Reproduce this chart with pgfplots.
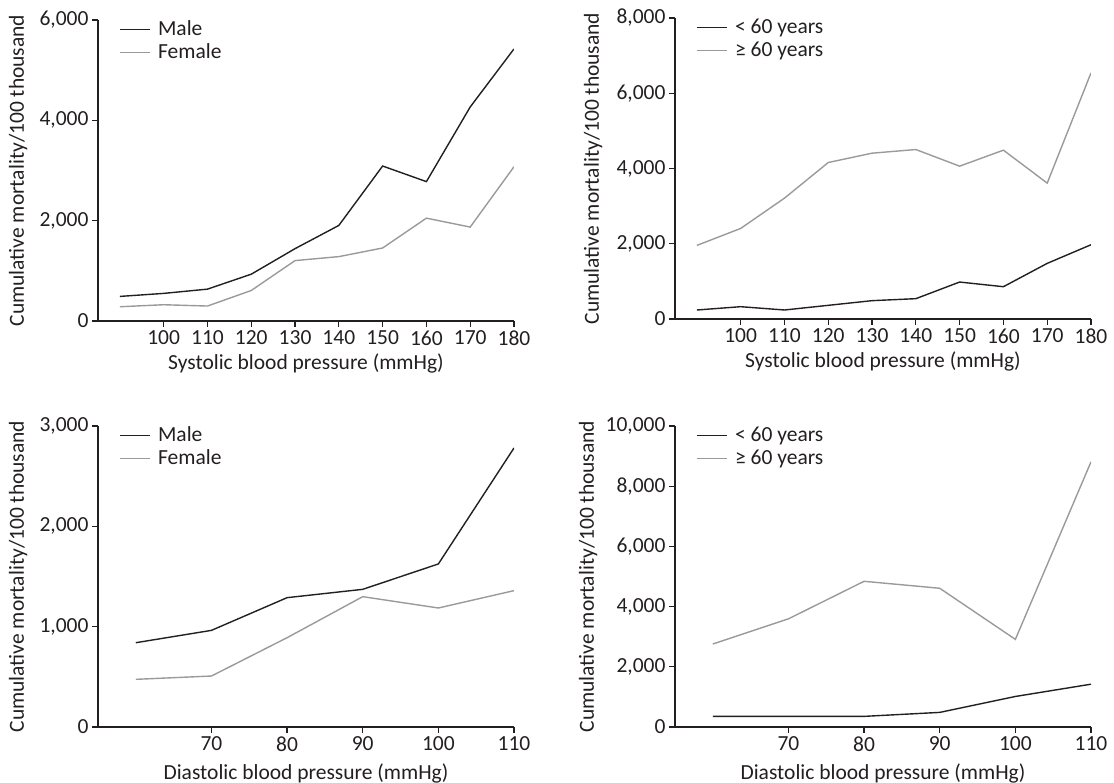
\documentclass[border=0pt]{standalone}
\usepackage{pgfplots}
\pgfplotsset{compat=1.18}
\usepackage{fontspec}
\setmainfont{Carlito}
\definecolor{dk}{HTML}{231F20}
\definecolor{gr}{HTML}{9A9A9A}
\pgfplotsset{
  base/.style={
    scale only axis,
    width=416pt, height=301pt,
    axis x line=bottom, axis y line=left,
    axis line style={-, line width=1.2pt, color=dk},
    tick style={line width=1.2pt, color=dk},
    major tick length=6pt, tick align=outside,
    font=\fontsize{21.5}{25}\selectfont,
    every tick label/.append style={text=dk},
    label style={text=dk},
    /pgf/number format/assume math mode=true,
    yticklabel style={/pgf/number format/fixed, /pgf/number format/1000 sep={,}},
    xticklabel style={/pgf/number format/1000 sep={}},
    scaled y ticks=false,
    ymin=0,
    minor tick num=0,
    ylabel={Cumulative mortality/100 thousand},
    legend cell align=left,
    legend image code/.code={\draw[##1] (0pt,0pt) -- (30pt,0pt); \path (33pt,0pt);},
    legend style={draw=none, fill=none, at={(0,1)}, anchor=north west,
      xshift=18pt, yshift=4pt, font=\fontsize{21.5}{25}\selectfont, text=dk,
      row sep=0pt, nodes={inner xsep=4.5pt, inner ysep=2pt, text height=15pt, text depth=4pt}},
  },
  blk/.style={color=dk, line width=1.4pt, mark=none},
  gry/.style={color=gr, line width=1.4pt, mark=none},
}
\begin{document}
\begin{tikzpicture}
\path[use as bounding box] (0pt,0pt) rectangle (1114pt,783pt);
% top left
\begin{axis}[base, at={(98pt,462pt)}, anchor=south west,
  xmin=85, xmax=180, xtick={100,110,...,180},
  ymax=6000, ytick={0,2000,4000,6000},
  xlabel={Systolic blood pressure (mmHg)},
  xlabel style={at={(axis description cs:0.5,0)}, anchor=center, yshift=-42pt},
  ylabel style={at={(axis description cs:-0.192,0.5)}, anchor=center}]
\addplot[blk] coordinates {(90,490) (100,550) (110,635) (120,933) (130,1442) (140,1905) (150,3089) (160,2778) (170,4266) (180,5423)};
\addlegendentry{Male}
\addplot[gry] coordinates {(90,284) (100,324) (110,298) (120,608) (130,1204) (140,1283) (150,1455) (160,2050) (170,1872) (180,3075)};
\addlegendentry{Female}
\end{axis}
% top right
\begin{axis}[base, at={(675pt,464pt)}, anchor=south west,
  xmin=85, xmax=180, xtick={100,110,...,180},
  ymax=8000, ytick={0,2000,4000,6000,8000},
  xlabel={Systolic blood pressure (mmHg)},
  xlabel style={at={(axis description cs:0.5,0)}, anchor=center, yshift=-42pt},
  ylabel style={at={(axis description cs:-0.197,0.5)}, anchor=center}]
\addplot[blk] coordinates {(90,239) (100,327) (110,239) (120,363) (130,487) (140,540) (150,982) (160,858) (170,1478) (180,1973)};
\addlegendentry{< 60 years}
\addplot[gry] coordinates {(90,1956) (100,2407) (110,3212) (120,4159) (130,4407) (140,4504) (150,4062) (160,4487) (170,3611) (180,6540)};
\addlegendentry{≥ 60 years}
\end{axis}
% bottom left
\begin{axis}[base, at={(98pt,56pt)}, anchor=south west,
  xmin=55, xmax=110, xtick={70,80,...,110},
  ymax=3000, ytick={0,1000,2000,3000},
  xlabel={Diastolic blood pressure (mmHg)},
  xlabel style={at={(axis description cs:0.5,0)}, anchor=center, yshift=-46pt},
  ylabel style={at={(axis description cs:-0.192,0.5)}, anchor=center}]
\addplot[blk] coordinates {(60,840) (70,963) (80,1289) (90,1372) (100,1625) (110,2781)};
\addlegendentry{Male}
\addplot[gry] coordinates {(60,475) (70,508) (80,890) (90,1299) (100,1186) (110,1359)};
\addlegendentry{Female}
\end{axis}
% bottom right
\begin{axis}[base, at={(675pt,56pt)}, anchor=south west,
  xmin=55, xmax=110, xtick={70,80,...,110},
  ymax=10000, ytick={0,2000,4000,6000,8000,10000},
  xlabel={Diastolic blood pressure (mmHg)},
  xlabel style={at={(axis description cs:0.5,0)}, anchor=center, yshift=-46pt},
  ylabel style={at={(axis description cs:-0.209,0.5)}, anchor=center}]
\addplot[blk] coordinates {(60,353) (70,353) (80,353) (90,485) (100,1014) (110,1422)};
\addlegendentry{< 60 years}
\addplot[gry] coordinates {(60,2756) (70,3594) (80,4840) (90,4609) (100,2911) (110,8809)};
\addlegendentry{≥ 60 years}
\end{axis}
\end{tikzpicture}
\end{document}
